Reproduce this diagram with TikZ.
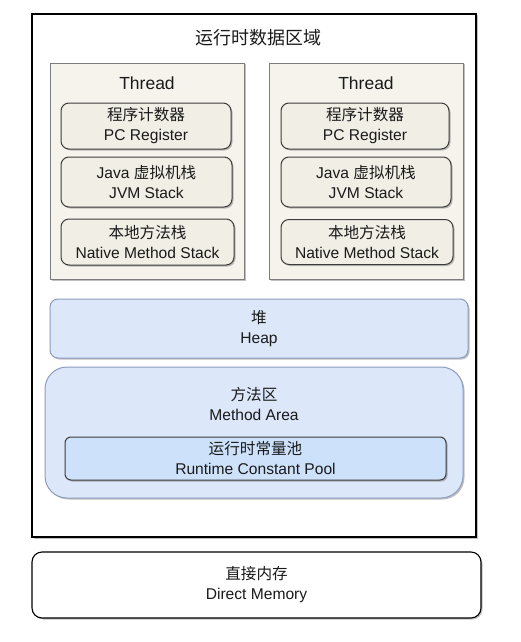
\documentclass[tikz,border=0pt]{standalone}
\usepackage{fontspec}
\setmainfont{Liberation Sans}
\newfontfamily\cjk{Noto Sans CJK SC}
\usetikzlibrary{shadows}
\newcommand{\zh}[1]{{\cjk #1}}
\definecolor{threadfill}{HTML}{F5F3EC}
\definecolor{threadline}{HTML}{7C7C7C}
\definecolor{cellfill}{HTML}{F1EEE5}
\definecolor{cellline}{HTML}{3C3C3C}
\definecolor{heapfill}{HTML}{DCE7FA}
\definecolor{heapline}{HTML}{8C9DBD}
\definecolor{poolfill}{HTML}{CDE2FA}
\definecolor{txt}{HTML}{1A1A1A}
\tikzset{
  shad/.style={drop shadow={shadow xshift=1.5pt,shadow yshift=-1.5pt,opacity=0.35,fill=black!70}},
  boxtext/.style={text=txt,font=\fontsize{15.6}{20}\selectfont,align=center,inner sep=0pt},
  outerbox/.style={draw=black,line width=1.1pt,fill=white,shad,inner sep=0pt},
  threadbox/.style={draw=threadline,line width=0.9pt,fill=threadfill,shad,inner sep=0pt},
  cellbox/.style={draw=cellline,line width=1pt,fill=cellfill,rounded corners=8pt,shad,boxtext},
  heapbox/.style={draw=heapline,line width=1pt,fill=heapfill,shad,inner sep=0pt},
  poolbox/.style={draw=cellline,line width=1pt,fill=poolfill,rounded corners=6pt,shad,boxtext},
  directbox/.style={draw=black,line width=1.1pt,fill=white,rounded corners=10pt,shad,boxtext},
}
\begin{document}
\begin{tikzpicture}[x=1pt,y=-1pt]
\useasboundingbox (0,0) rectangle (521,642);
% runtime data area
\node[outerbox,minimum width=444pt,minimum height=523pt] (rt) at (254,275.5) {};
\node[boxtext,font=\fontsize{18}{20}\selectfont] (rtl) at (258,38) {\zh{运行时数据区域}};
% threads
\node[threadbox,minimum width=194pt,minimum height=216pt] (th1) at (147,171) {};
\node[boxtext,font=\fontsize{17.5}{20}\selectfont] (th1l) at (147,83) {Thread};
\node[cellbox,minimum width=170pt,minimum height=46pt] (pc1) at (146,126) {\zh{程序计数器}\\PC Register};
\node[cellbox,minimum width=171pt,minimum height=50pt] (jvm1) at (146.5,182) {Java \zh{虚拟机栈}\\JVM Stack};
\node[cellbox,minimum width=173pt,minimum height=46pt] (nat1) at (147.5,242) {\zh{本地方法栈}\\Native Method Stack};
\node[threadbox,minimum width=194pt,minimum height=216pt] (th2) at (366,171) {};
\node[boxtext,font=\fontsize{17.5}{20}\selectfont] (th2l) at (366,83) {Thread};
\node[cellbox,minimum width=168pt,minimum height=46pt] (pc2) at (365,126) {\zh{程序计数器}\\PC Register};
\node[cellbox,minimum width=170pt,minimum height=50pt] (jvm2) at (366,182) {Java \zh{虚拟机栈}\\JVM Stack};
\node[cellbox,minimum width=172pt,minimum height=45pt] (nat2) at (367,242) {\zh{本地方法栈}\\Native Method Stack};
% heap
\node[heapbox,rounded corners=8pt,minimum width=418pt,minimum height=59pt,boxtext] (heap) at (259,328.5) {\zh{堆}\\Heap};
% method area
\node[heapbox,rounded corners=22pt,minimum width=418pt,minimum height=131pt] (ma) at (254,432.5) {};
\node[boxtext] (mal) at (254,404) {\zh{方法区}\\Method Area};
\node[poolbox,minimum width=381pt,minimum height=43pt] (pool) at (255.5,458.5) {\zh{运行时常量池}\\Runtime Constant Pool};
% direct memory
\node[directbox,minimum width=449pt,minimum height=66pt] (dm) at (256.5,585) {\zh{直接内存}\\Direct Memory};
\end{tikzpicture}
\end{document}
